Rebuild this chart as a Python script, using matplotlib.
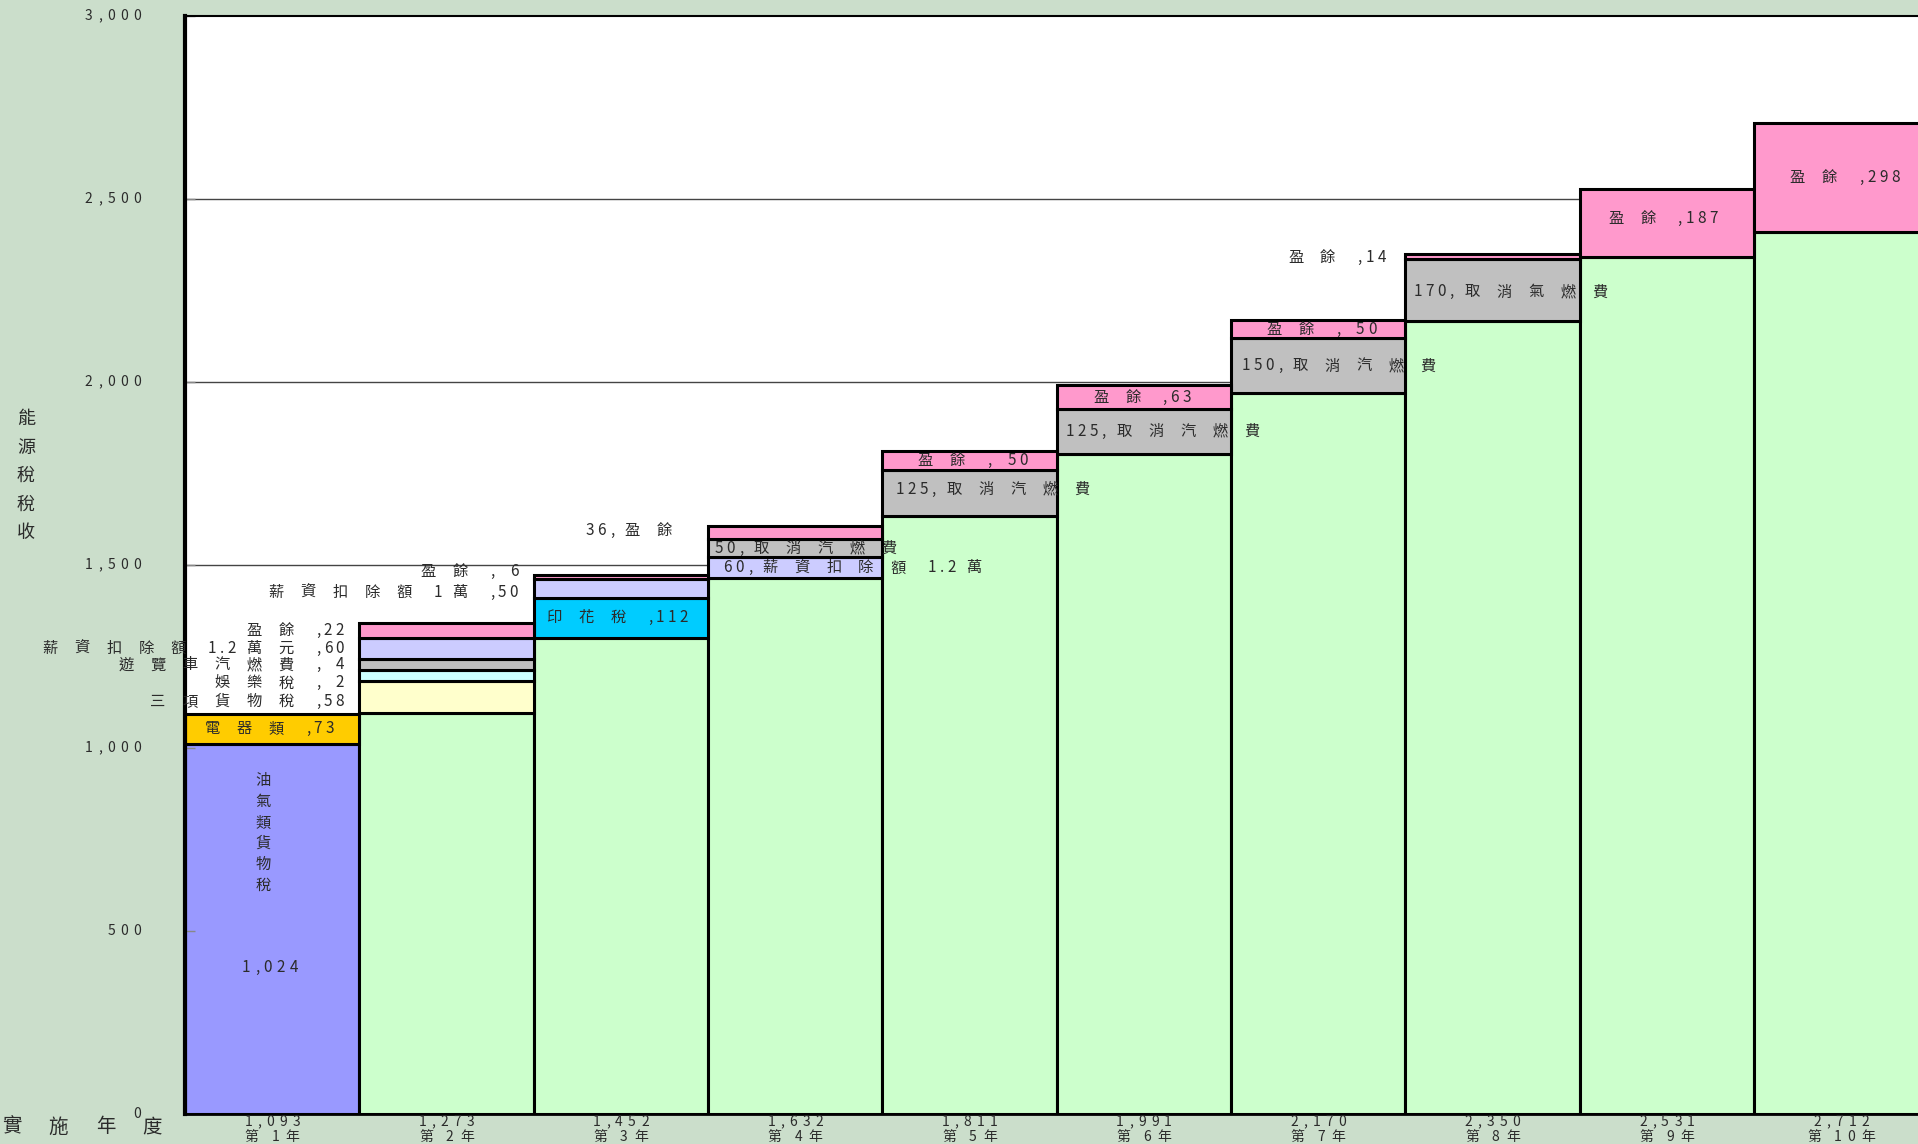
import matplotlib
matplotlib.use('Agg')
import matplotlib.pyplot as plt

plt.rcParams['font.family'] = ['Noto Sans CJK TC', 'DejaVu Sans']

# --- DATA (heights) ---
years = ['第 1年', '第 2年', '第 3年', '第 4年', '第 5年',
         '第 6年', '第 7年', '第 8年', '第 9年', '第 10年']
totals = [1093, 1273, 1452, 1632, 1811, 1991, 2170, 2350, 2531, 2712]
base = [1012, 1095, 1301, 1464, 1635, 1802, 1969, 2167, 2342, 2411]
electrical = [80, 0, 0, 0, 0, 0, 0, 0, 0, 0]
three_goods = [0, 87, 0, 0, 0, 0, 0, 0, 0, 0]
entertainment = [0, 31, 0, 0, 0, 0, 0, 0, 0, 0]
bus_fuel = [0, 29, 0, 0, 0, 0, 0, 0, 0, 0]
stamp = [0, 0, 110, 0, 0, 0, 0, 0, 0, 0]
salary = [0, 59, 50, 57, 0, 0, 0, 0, 0, 0]
fuel_cancel = [0, 0, 0, 50, 125, 125, 150, 168, 0, 0]
surplus = [0, 41, 11, 36, 51, 64, 50, 14, 185, 298]
yticks = [0, 500, 1000, 1500, 2000, 2500, 3000]

BG = '#CBDECB'
TXT = '#2b2b2b'

fig = plt.figure(figsize=(19.18, 11.44), dpi=100, facecolor=BG)
ax = fig.add_axes([185 / 1918, 1 - 1114 / 1144, 1 - 185 / 1918, 1098 / 1144])
ax.set_facecolor('white')


def spaced(x, y, s, ha='left', dx=0, dy=0, size=11, coords='data',
           cjk=32, digit=12, narrow=8, gap=12):
    # draw text char by char to get the wide letter spacing of the original
    cells = []
    for c in s:
        if ord(c) > 0x2e80:
            cells.append(cjk)
        elif c in ',.':
            cells.append(narrow)
        elif c == ' ':
            cells.append(gap)
        else:
            cells.append(digit)
    total = sum(cells)
    off = {'left': 0, 'center': -total / 2, 'right': -total}[ha] + dx
    for c, w in zip(s, cells):
        if c != ' ':
            ax.annotate(c, (x, y), xycoords=coords,
                        xytext=((off + w / 2) * 0.72, dy * 0.72), textcoords='offset points',
                        ha='center', va='center', fontsize=size, color=TXT,
                        annotation_clip=False)
        off += w


# --- BARS ---
pos = list(range(len(base)))
base_colors = ['#9999FF'] + ['#CCFFCC'] * (len(base) - 1)
ax.bar(pos, base, width=1, align='edge', color=base_colors, edgecolor='black', linewidth=2.2)

layers = [(electrical, '#FFCC00'), (three_goods, '#FFFFCC'), (entertainment, '#CCFFFF'),
          (bus_fuel, '#C0C0C0'), (stamp, '#00CCFF'), (salary, '#CCCCFF'),
          (fuel_cancel, '#C0C0C0'), (surplus, '#FF99CC')]
bottom = list(base)
for heights, color in layers:
    idx = [i for i, h in enumerate(heights) if h]
    ax.bar([pos[i] for i in idx], [heights[i] for i in idx], bottom=[bottom[i] for i in idx],
           width=1, align='edge', color=color, edgecolor='black', linewidth=2.2)
    bottom = [b + h for b, h in zip(bottom, heights)]

for v in [1500, 2000, 2500]:
    ax.axhline(v, color='#444444', linewidth=1, zorder=0.5)

ax.set_xlim(0, 9.94)
ax.set_ylim(0, 3000)
ax.set_xticks([])
ax.set_yticks(yticks)
ax.set_yticklabels([])
ax.tick_params(axis='y', direction='in', length=7, color='#888888', width=1)
ax.spines['left'].set_linewidth(3)
ax.spines['top'].set_linewidth(1.5)
ax.spines['bottom'].set_linewidth(2)
ax.spines['right'].set_visible(False)

# --- AXIS TEXT ---
for v in yticks:
    spaced(0, v, f'{v:,}', ha='right', dx=-41, size=10, coords=('axes fraction', 'data'),
           digit=13, narrow=10)

for i, (yr, t) in enumerate(zip(years, totals)):
    spaced(i + 0.5, 0, f'{t:,}', ha='center', dy=-8, size=10, digit=13, narrow=9)
    spaced(i + 0.5, 0, yr, ha='center', dy=-23, size=10, cjk=22, digit=13, gap=6)

fig.text(26 / 1918, 1 - 476 / 1144, '\n'.join('能源稅稅收'), ha='center', va='center',
         fontsize=13, color=TXT, linespacing=1.75)
spaced(0, 17, '實施年度', ha='left', dx=-12, size=14, coords='figure pixels', cjk=47)

# --- SEGMENT LABELS ---
ax.text(0.447, 768, '\n'.join('油氣類貨物稅'), ha='center', va='center',
        fontsize=11, color=TXT, linespacing=1.3)
spaced(0.487, 399, '1,024', ha='center', digit=13, narrow=9)
spaced(0.063, 1052, '電器類 ,73')

spaced(0.923, 1322, '盈餘 ,22', ha='right')
spaced(0.923, 1273, '薪資扣除額 1.2萬元 ,60', ha='right')
spaced(0.923, 1227, '遊覽車汽燃費 , 4', ha='right')
spaced(0.923, 1178, '娛樂稅 , 2', ha='right')
spaced(0.923, 1128, '三項貨物稅 ,58', ha='right')

spaced(1.921, 1481, '盈餘 , 6', ha='right')
spaced(1.921, 1426, '薪資扣除額 1萬 ,50', ha='right')
spaced(2.024, 1356, '印花稅 ,112')

spaced(2.838, 1593, '36,盈餘', ha='right')
spaced(3.028, 1546, '50,取消汽燃費')
spaced(3.079, 1492, '60,薪資扣除額 1.2萬')

spaced(4.5, 1785, '盈餘 , 50', ha='center')
spaced(4.065, 1707, '125,取消汽燃費')

spaced(5.47, 1959, '盈餘 ,63', ha='center')
spaced(5.04, 1866, '125,取消汽燃費')

spaced(6.5, 2144, '盈餘 , 50', ha='center')
spaced(6.05, 2044, '150,取消汽燃費')

spaced(6.898, 2339, '盈餘 ,14', ha='right')
spaced(7.036, 2246, '170,取消氣燃費')

spaced(8.114, 2448, '盈餘 ,187')
spaced(9.157, 2560, '盈餘 ,298')

plt.savefig('out.png', dpi=100, facecolor=BG)
